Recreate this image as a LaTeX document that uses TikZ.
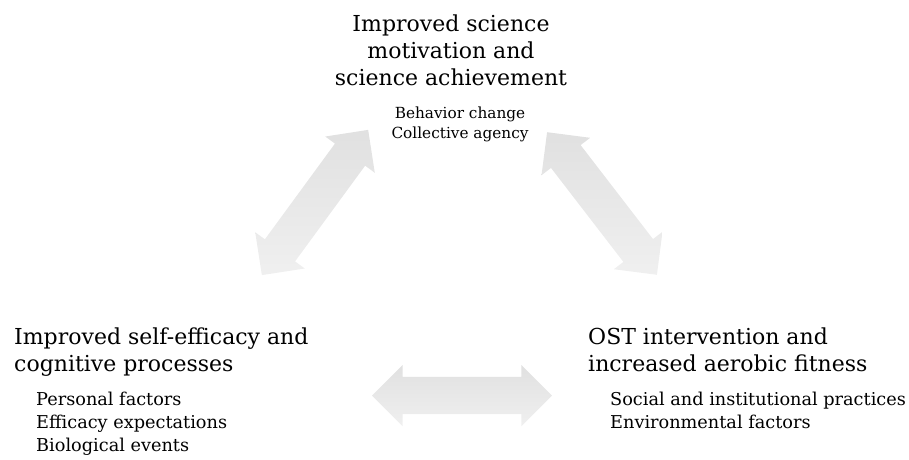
\documentclass[tikz,border=0pt]{standalone}
\usepackage{fontspec}
\setmainfont{DejaVu Serif}
\usepackage{tikz}
\usetikzlibrary{shapes.arrows}
\tikzset{
	titlestyle/.style={inner sep=0pt,font=\fontsize{22}{27.3}\selectfont},
	itemstyle/.style={inner sep=0pt,align=left,font=\fontsize{17.7}{23.3}\selectfont},
	smallitemstyle/.style={inner sep=0pt,align=center,font=\fontsize{15.3}{20}\selectfont},
	arrowstyle/.style={double arrow,draw=none,top color=black!12,bottom color=black!6,minimum height=180pt,minimum width=61pt,double arrow head extend=12pt,inner xsep=0pt,inner ysep=18.5pt}
}

\begin{document}
\begin{tikzpicture}[x=1pt,y=-1pt]
		\useasboundingbox (0,0) rectangle (909,459);
		\node[titlestyle,align=center,anchor=north] (sci) at (451,14.3) {Improved science\\motivation and\\science achievement};
		\node[smallitemstyle,anchor=north] (sciitems) at (460,106.7) {Behavior change\\Collective agency};
		\node[titlestyle,align=left,anchor=north west] (self) at (14,327.6) {Improved self-efficacy and\\cognitive processes};
		\node[itemstyle,anchor=north west] (selfitems) at (36,391.5) {Personal factors\\Efficacy expectations\\Biological events};
		\node[titlestyle,align=left,anchor=north west] (ost) at (588,327.6) {OST intervention and\\increased aerobic fitness};
		\node[itemstyle,anchor=north west] (ostitems) at (610,391.5) {Social and institutional practices\\Environmental factors};
		\node[arrowstyle,rotate=53.8] (selfsci) at (315,202.5) {};
		\node[arrowstyle,rotate=-52.4] (sciost) at (602,203.5) {};
		\node[arrowstyle] (selfost) at (462,395.5) {};
\end{tikzpicture}
\end{document}
